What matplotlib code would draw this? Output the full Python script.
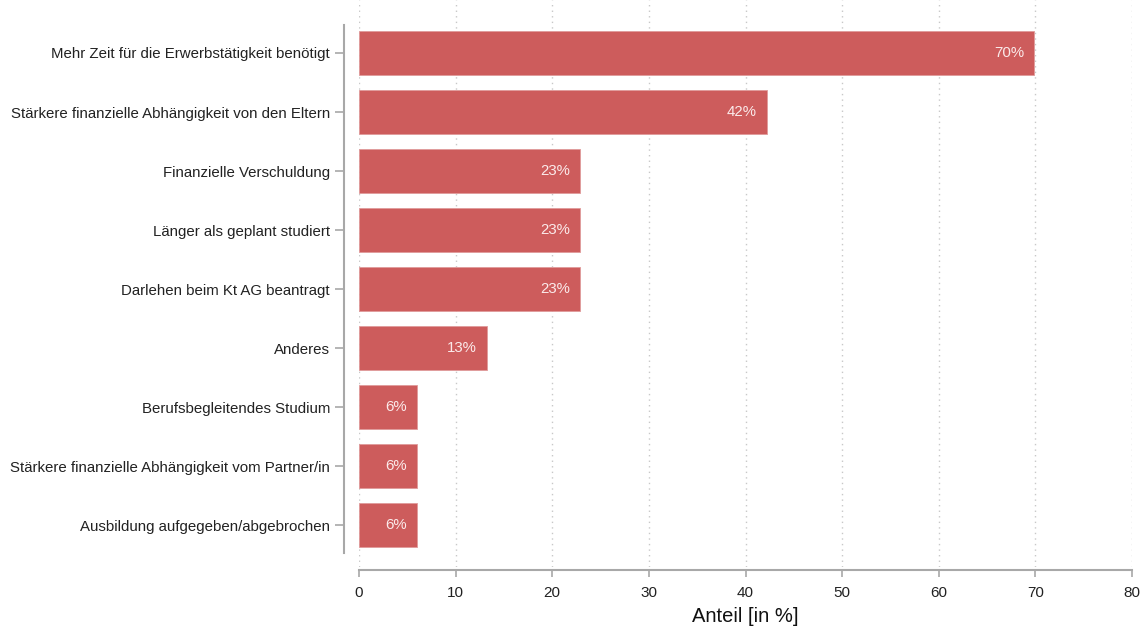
import numpy as np
import matplotlib
matplotlib.use("Agg")
import matplotlib.pyplot as plt

plt.rcParams['font.family'] = ['Liberation Sans', 'DejaVu Sans']

# Daten
kategorien = ["Mehr Zeit für die Erwerbstätigkeit benötigt",
              "Stärkere finanzielle Abhängigkeit von den Eltern",
              "Finanzielle Verschuldung",
              "Länger als geplant studiert",
              "Darlehen beim Kt AG beantragt",
              "Anderes",
              "Berufsbegleitendes Studium",
              "Stärkere finanzielle Abhängigkeit vom Partner/in",
              "Ausbildung aufgegeben/abgebrochen"]
anteil = [69.9, 42.2, 22.9, 22.9, 22.9, 13.2, 6.0, 6.0, 6.0]
beschriftung = ["70%", "42%", "23%", "23%", "23%", "13%", "6%", "6%", "6%"]
xticks = [0, 10, 20, 30, 40, 50, 60, 70, 80]

farbe = '#CD5C5C'
grau = '#a8a8a8'
px = 72 / 100  # Pixel -> Punkte

fig = plt.figure(figsize=(11.42, 6.29), dpi=100)
ax = fig.add_axes([359/1142, 1 - 567/629, (1132-359)/1142, 567/629])

y = np.arange(len(kategorien))
ax.barh(y, anteil, height=0.75, color=farbe, edgecolor='#e09a9a', linewidth=0.6, zorder=2)

# Werte in den Balken
for yi, v, t in zip(y, anteil, beschriftung):
    ax.text(v - 1.0, yi, t, ha='right', va='center', color='#fbeaea', fontsize=10.8, zorder=3)

ax.set_xlim(0, 80)
ax.set_ylim(8.71, -0.898)
ax.set_yticks(y)
ax.set_yticklabels(kategorien)
ax.set_xticks(xticks)
ax.set_xticklabels([str(t) for t in xticks])
ax.set_xlabel('Anteil [in %]', fontsize=14.5, color='#111111', labelpad=5)

# Gitter
ax.grid(axis='x', linestyle=(0, (1, 3)), color='#c8c8c8', linewidth=1, zorder=0)
ax.grid(axis='y', visible=False)

# Achsen im Stata-Stil
ax.spines['top'].set_visible(False)
ax.spines['right'].set_visible(False)
ax.spines['left'].set_position(('outward', 15 * px))
ax.spines['left'].set_bounds(-0.475, 8.475)
ax.spines['bottom'].set_position(('outward', 3 * px))
for s in ['left', 'bottom']:
    ax.spines[s].set_color(grau)
    ax.spines[s].set_linewidth(1.5)
ax.tick_params(axis='y', length=9 * px, width=1.2, color=grau, pad=5 * px,
               labelsize=10.8, labelcolor='#222222')
ax.tick_params(axis='x', length=7 * px, width=1.2, color=grau, pad=9 * px,
               labelsize=11, labelcolor='#222222')

fig.savefig('out.png', dpi=100)
